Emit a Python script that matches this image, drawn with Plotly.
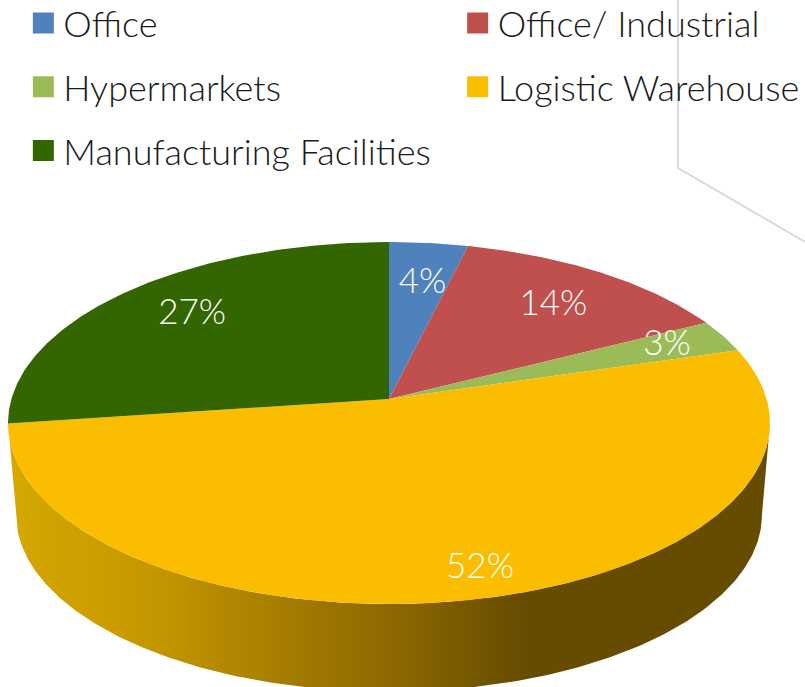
import numpy as np
import plotly.graph_objects as go

categories = ["Office", "Office/ Industrial", "Hypermarkets", "Logistic Warehouse", "Manufacturing Facilities"]
values = [3.8, 13.7, 2.9, 52.45, 27.15]
colors = ["#4F81BD", "#C0504D", "#9BBB59", "#FBBD00", "#336600"]
legend_column = ["legend", "legend2", "legend", "legend2", "legend"]
label_radius = [0.71, 0.73, 0.825, 0.875, 0.75]
label_angle_shift = [1, 1.5, 0, -2, 1]

FONT = "Lato Light, Lato, sans-serif"
W, H = 805, 687
APEX_X, APEX_Y = 389, 399
K, A, B = 0.1327, 177.8, 377.6
WALL_DROP, WALL_SCALE = 92, 0.979


def project(theta_deg, r=1.0, scale=1.0, drop=0.0):
    t = np.radians(theta_deg)
    den = 1 + K * np.cos(t) * r
    x = APEX_X + scale * B * r * np.sin(t) / den
    y = APEX_Y + drop - scale * A * r * np.cos(t) / den
    return x, y


edges = np.cumsum([0] + values) / sum(values) * 360
left_ext = np.degrees(np.arccos(-K))

fig = go.Figure()

# Side wall of the pie: front arc of the top face, back along the lower rim
front = np.linspace(left_ext, 360 - left_ext, 240)
tx, ty = project(front)
bx, by = project(front[::-1], scale=WALL_SCALE, drop=WALL_DROP)
fig.add_trace(go.Scatter(
    x=np.r_[tx, bx], y=np.r_[ty, by], mode="lines", fill="toself",
    line=dict(width=0), showlegend=False, hoverinfo="skip",
    fillgradient=dict(type="horizontal", colorscale=[
        [0.0, "#D6A800"], [0.18, "#C69800"], [0.38, "#A27A00"],
        [0.52, "#8A6600"], [0.68, "#664C00"], [1.0, "#664C00"]]),
))

# Top face slices
for name, v, c, a0, a1 in zip(categories, values, colors, edges[:-1], edges[1:]):
    th = np.linspace(a0, a1, max(int(a1 - a0) * 2, 8))
    x, y = project(th)
    fig.add_trace(go.Scatter(
        x=np.r_[APEX_X, x, APEX_X], y=np.r_[APEX_Y, y, APEX_Y], mode="lines",
        fill="toself", fillcolor=c, line=dict(width=0), showlegend=False,
        name=name, hovertemplate=f"{name}: {v:.0f}%<extra></extra>",
    ))

# Percent labels
mids = (edges[:-1] + edges[1:]) / 2 + np.array(label_angle_shift)
lx, ly = project(mids, r=np.array(label_radius))
fig.add_trace(go.Scatter(
    x=lx, y=ly, mode="text", text=[f"{v:.0f}%" for v in values], textposition="middle center",
    textfont=dict(family=FONT, size=35, color="white", weight=300),
    showlegend=False, hoverinfo="skip",
))

# Legend entries
for i, (name, c, lg) in enumerate(zip(categories, colors, legend_column)):
    fig.add_trace(go.Scatter(
        x=[None], y=[None], mode="markers", name=name, legend=lg, legendgroup=f"g{i}",
        marker=dict(symbol="square", size=16, color=c, line=dict(color=c, width=5)),
    ))

legend_style = dict(
    orientation="v", yanchor="top", xanchor="left", tracegroupgap=14,
    font=dict(family=FONT, size=36, color="#1a1a1a", weight=300),
    bgcolor="rgba(0,0,0,0)",
)
fig.update_layout(
    width=W, height=H, margin=dict(l=0, r=0, t=0, b=0, autoexpand=False),
    paper_bgcolor="white", plot_bgcolor="white",
    xaxis=dict(range=[0, W], visible=False, fixedrange=True),
    yaxis=dict(range=[H, 0], visible=False, fixedrange=True),
    legend=dict(x=0.029, y=1.0102, **legend_style),
    legend2=dict(x=0.5685, y=1.0102, **legend_style),
    shapes=[dict(type="path", path="M 678 0 L 678 168 L 805 242", layer="below",
                 line=dict(color="#D9D9D9", width=2))],
)
fig.write_html("out.html", config=dict(displayModeBar=False),
               post_script="document.body.style.margin='0';document.documentElement.style.overflow='hidden';")
